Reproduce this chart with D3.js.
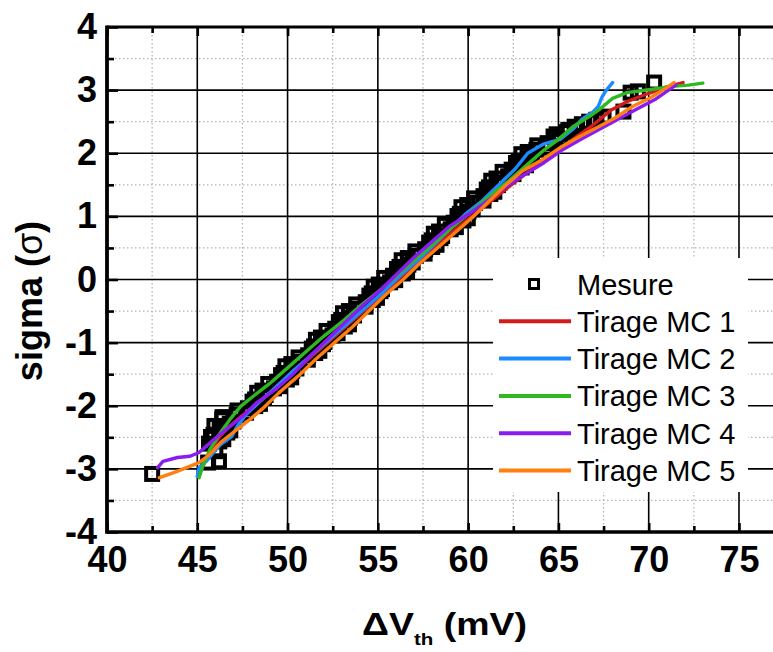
<!DOCTYPE html>
<html><head><meta charset="utf-8">
<script src="https://cdn.jsdelivr.net/npm/d3@7"></script>
<style>html,body{margin:0;padding:0;background:#fff;} svg{display:block;}</style>
</head><body>
<svg id="chart" width="773" height="652"></svg>
<script>
// ---------- data ----------
const xTicks = [40,45,50,55,60,65,70,75];
const xMinor = [42.5,47.5,52.5,57.5,62.5,67.5,72.5,77.5];
const yTicks = [-4,-3,-2,-1,0,1,2,3,4];
const yMinor = [-3.5,-2.5,-1.5,-0.5,0.5,1.5,2.5,3.5];
const seriesNames = ["Mesure","Tirage MC 1","Tirage MC 2","Tirage MC 3","Tirage MC 4","Tirage MC 5"];
const seriesColors = ["#000000","#d21b1b","#1a8cff","#2fb821","#8a1cf0","#ff7f10"];

// measured points (sigma, deltaVth)
const mesureS = [-3.08,-2.90,-2.88,-2.72,
 -2.60,-2.53,-2.46,-2.39,-2.32,-2.25,-2.18,-2.11,-2.04,-1.97,
 -1.90,-1.83,-1.76,-1.69,-1.62,-1.55,-1.48,-1.41,-1.34,-1.27,
 -1.20,-1.13,-1.06,-0.99,-0.92,-0.85,-0.78,-0.71,-0.64,-0.57,
 -0.50,-0.43,-0.36,-0.29,-0.22,-0.15,-0.08,-0.01,0.06,0.13,
 0.20,0.27,0.34,0.41,0.48,0.55,0.62,0.69,0.76,0.83,
 0.90,0.97,1.04,1.11,1.18,1.25,1.32,1.39,1.46,1.53,
 1.60,1.67,1.74,1.81,1.88,1.95,2.02,2.09,2.16,2.23,
 2.30,2.37,
 2.42,2.46,2.50,2.53,2.58,2.66,2.96,2.98,3.12,
 -2.565,-2.495,-2.425,-2.355,-2.285,-2.215,-2.145,-2.075,-2.005,-1.935,
 -1.865,-1.795,-1.725,-1.655,-1.585,-1.515,-1.445,-1.375,-1.305,-1.235,
 -1.165,-1.095,-1.025,-0.955,-0.885,-0.815,-0.745,-0.675,-0.605,-0.535,
 -0.465,-0.395,-0.325,-0.255,-0.185,-0.115,-0.045,0.025,0.095,0.165,
 0.235,0.305,0.375,0.445,0.515,0.585,0.655,0.725,0.795,0.865,
 0.935,1.005,1.075,1.145,1.215,1.285,1.355,1.425,1.495,1.565,
 1.635,1.705,1.775,1.845,1.915,1.985,2.055,2.125,2.195,2.265,2.335];
const mesureV = [42.5,45.6,46.2,46.0,
 45.65,46.44,45.9,46.83,45.95,47.0,46.4,47.7,47.8,48.47,
 48.2,48.78,48.61,49.54,49.42,50.2,49.78,50.49,50.21,51.12,
 51.14,51.76,51.47,52.04,51.85,52.77,52.64,53.4,52.97,53.68,
 53.4,54.32,54.33,54.95,54.66,55.23,55.05,55.96,55.84,56.62,
 56.2,56.93,56.66,57.59,57.62,58.25,57.98,58.56,58.39,59.32,
 59.2,59.98,59.54,60.25,59.95,60.85,60.85,61.45,61.16,61.73,
 61.57,62.51,62.41,63.2,62.8,63.54,63.3,64.3,64.4,65.1,
 64.9,65.55,
 65.9,66.3,66.7,67.1,67.5,68.6,69.0,69.4,70.3,
 46.22,45.76,46.66,46.24,46.8,46.38,47.18,47.23,48.21,48.06,
 48.69,48.32,49.25,48.93,49.96,49.64,50.26,49.88,50.64,50.61,
 51.53,51.34,51.96,51.57,52.49,52.16,53.17,52.84,53.45,53.07,
 53.84,53.8,54.72,54.53,55.15,54.77,55.68,55.35,56.38,56.06,
 56.69,56.32,57.1,57.08,58.01,57.84,58.47,58.1,59.03,58.71,
 59.74,59.41,60.02,59.63,60.38,60.33,61.23,61.03,61.65,61.28,
 62.22,61.91,62.96,62.65,63.3,62.95,63.78,63.83,64.83,64.73,65.43];

const mc1 = [[45.1,-3.1],[45.4,-2.9],[45.8,-2.7],[46.2,-2.5],[46.7,-2.35],[47.3,-2.2],[48.2,-2.0],[49.2,-1.75],[50.4,-1.45],[51.4,-1.2],[52.4,-0.95],[53.4,-0.7],[54.4,-0.45],[55.4,-0.2],[56.3,0.05],[57.3,0.3],[58.3,0.55],[59.3,0.8],[60.3,1.02],[61.3,1.25],[62.3,1.48],[63.4,1.72],[64.6,1.98],[65.7,2.2],[66.8,2.42],[67.9,2.68],[68.9,2.83],[70.0,2.95],[71.0,3.05],[71.9,3.12]];
const mc2 = [[45.0,-3.12],[45.1,-2.98],[45.5,-2.88],[45.9,-2.74],[46.3,-2.61],[46.9,-2.49],[47.2,-2.33],[47.7,-2.14],[48.4,-1.95],[49.3,-1.72],[50.3,-1.45],[51.3,-1.2],[52.3,-0.95],[53.3,-0.7],[54.3,-0.45],[55.3,-0.2],[56.2,0.05],[57.2,0.3],[58.1,0.55],[59.0,0.8],[59.9,1.05],[60.8,1.25],[61.7,1.5],[62.6,1.75],[63.3,2.0],[64.2,2.15],[65.1,2.22],[65.8,2.38],[66.3,2.54],[66.9,2.65],[67.2,2.74],[67.4,2.88],[67.6,2.98],[68.0,3.12]];
const mc3 = [[45.1,-3.14],[45.3,-2.96],[45.7,-2.69],[46.3,-2.42],[46.8,-2.22],[47.4,-2.01],[48.1,-1.85],[49.0,-1.65],[50.0,-1.4],[51.0,-1.15],[52.0,-0.9],[53.1,-0.65],[54.1,-0.4],[55.2,-0.15],[56.2,0.1],[57.2,0.35],[58.2,0.6],[59.2,0.85],[60.2,1.08],[61.2,1.32],[62.2,1.55],[63.2,1.8],[64.2,2.05],[65.0,2.22],[65.8,2.42],[66.7,2.58],[67.3,2.7],[68.0,2.87],[68.8,2.96],[70.1,3.01],[71.3,3.06],[72.2,3.08],[73.0,3.11]];
const mc4 = [[42.8,-2.98],[43.1,-2.88],[43.9,-2.82],[44.6,-2.8],[45.1,-2.74],[45.5,-2.64],[46.1,-2.49],[46.8,-2.33],[47.5,-2.17],[48.3,-1.95],[49.3,-1.75],[50.3,-1.5],[51.3,-1.2],[52.2,-0.95],[53.3,-0.65],[54.2,-0.4],[55.2,-0.15],[56.1,0.1],[57.0,0.35],[58.0,0.6],[59.0,0.85],[60.1,1.05],[61.1,1.25],[62.1,1.47],[63.1,1.66],[64.2,1.85],[65.2,2.05],[66.3,2.23],[67.4,2.4],[68.5,2.57],[69.4,2.71],[70.4,2.86],[71.1,3.0],[71.5,3.08]];
const mc5 = [[42.9,-3.14],[43.7,-3.06],[44.4,-2.98],[45.1,-2.9],[45.7,-2.77],[46.3,-2.58],[47.0,-2.42],[47.9,-2.22],[48.6,-2.05],[49.5,-1.8],[50.7,-1.5],[51.6,-1.25],[52.6,-1.0],[53.6,-0.75],[54.5,-0.5],[55.4,-0.25],[56.4,0.0],[57.3,0.25],[58.3,0.5],[59.3,0.75],[60.3,1.0],[61.2,1.25],[62.1,1.5],[63.0,1.72],[64.0,1.88],[65.1,2.09],[66.2,2.27],[67.3,2.43],[68.2,2.57],[69.1,2.74],[70.1,2.88],[71.0,3.04],[71.4,3.12]];

// ---------- layout ----------
const svg = d3.select("#chart");
const W = 773, H = 652;
svg.append("rect").attr("width",W).attr("height",H).attr("fill","#fff");
const x = d3.scaleLinear().domain([40,77]).range([107, 107 + 37*18.057]);
const y = d3.scaleLinear().domain([-4,4]).range([532,27]);
const FONT = "'Liberation Sans', Arial, Helvetica, sans-serif";

// grid
const grid = svg.append("g");
grid.selectAll(".mgx").data(xMinor).join("line")
  .attr("x1",d=>x(d)).attr("x2",d=>x(d)).attr("y1",y(4)).attr("y2",y(-4))
  .attr("stroke","#b4b4b4").attr("stroke-width",1.3).attr("stroke-dasharray","1.5,2.5");
grid.selectAll(".mgy").data(yMinor).join("line")
  .attr("x1",x(40)).attr("x2",x(77)).attr("y1",d=>y(d)).attr("y2",d=>y(d))
  .attr("stroke","#b4b4b4").attr("stroke-width",1.3).attr("stroke-dasharray","1.5,2.5");
grid.selectAll(".Mgx").data(xTicks.slice(1)).join("line")
  .attr("x1",d=>x(d)).attr("x2",d=>x(d)).attr("y1",y(4)).attr("y2",y(-4))
  .attr("stroke","#000").attr("stroke-width",1.6);
grid.selectAll(".Mgy").data(yTicks.slice(1,-1)).join("line")
  .attr("x1",x(40)).attr("x2",x(77)).attr("y1",d=>y(d)).attr("y2",d=>y(d))
  .attr("stroke","#000").attr("stroke-width",1.6);

// measurement squares
const mesure = d3.zip(mesureV, mesureS);
const sq = 12;
svg.append("g").selectAll("rect").data(mesure).join("rect")
  .attr("x",d=>x(d[0])-sq/2).attr("y",d=>y(d[1])-sq/2)
  .attr("width",sq).attr("height",sq)
  .attr("fill","none").attr("stroke","#000").attr("stroke-width",4);

// MC lines
const line = d3.line().x(d=>x(d[0])).y(d=>y(d[1]));
[mc1,mc2,mc3,mc4,mc5].forEach((s,i)=>{
  svg.append("path").datum(s).attr("d",line)
    .attr("fill","none").attr("stroke",seriesColors[i+1])
    .attr("stroke-width",3.4).attr("stroke-linejoin","round").attr("stroke-linecap","round");
});

// legend
const lg = svg.append("g");
lg.append("rect").attr("x",493).attr("y",258).attr("width",255).attr("height",234).attr("fill","#fff");
const rowY = i => 284 + i*37.3;
seriesNames.forEach((n,i)=>{
  const ry = rowY(i);
  if(i===0){
    lg.append("rect").attr("x",534-4.5).attr("y",ry-4.5).attr("width",9).attr("height",9)
      .attr("fill","#fff").attr("stroke","#000").attr("stroke-width",3);
  } else {
    lg.append("line").attr("x1",499).attr("x2",571).attr("y1",ry).attr("y2",ry)
      .attr("stroke",seriesColors[i]).attr("stroke-width",4);
  }
  lg.append("text").attr("x",577).attr("y",ry+10.5).attr("font-family",FONT)
    .attr("font-size",29).attr("fill","#000").text(n);
});

// axes
function styleAxis(g){
  g.select(".domain").remove();
  g.selectAll(".tick line").attr("stroke","#000").attr("stroke-width",2.6);
  g.selectAll("text").attr("font-family",FONT).attr("font-weight","bold").attr("font-size",36).attr("fill","#000");
}
const fmt = d => String(d).replace("\u2212","-");
svg.append("g").attr("transform","translate(0,532)")
  .call(d3.axisBottom(x).tickValues(xTicks).tickSize(-9).tickPadding(14.4).tickFormat(fmt)).call(styleAxis);
svg.append("g").attr("transform","translate(0,532)")
  .call(d3.axisBottom(x).tickValues(xMinor).tickSize(-6).tickFormat("")).call(styleAxis);
svg.append("g").attr("transform","translate(0,27)")
  .call(d3.axisTop(x).tickValues(xTicks).tickSize(-9).tickFormat("")).call(styleAxis);
svg.append("g").attr("transform","translate(0,27)")
  .call(d3.axisTop(x).tickValues(xMinor).tickSize(-6).tickFormat("")).call(styleAxis);
svg.append("g").attr("transform","translate(107,0)")
  .call(d3.axisLeft(y).tickValues(yTicks).tickSize(-11).tickPadding(10).tickFormat(fmt)).call(styleAxis);
svg.append("g").attr("transform","translate(107,0)")
  .call(d3.axisLeft(y).tickValues(yMinor).tickSize(-7).tickFormat("")).call(styleAxis);

// frame lines
svg.append("line").attr("x1",107).attr("x2",W).attr("y1",27).attr("y2",27).attr("stroke","#000").attr("stroke-width",3);
svg.append("line").attr("x1",107).attr("x2",W).attr("y1",532).attr("y2",532).attr("stroke","#000").attr("stroke-width",3.5);
svg.append("line").attr("x1",107).attr("x2",107).attr("y1",25.5).attr("y2",533.7).attr("stroke","#000").attr("stroke-width",3.8);

// y label
const yl = svg.append("text").attr("transform","translate(42,301) rotate(-90)")
  .attr("text-anchor","middle").attr("font-family",FONT).attr("font-weight","bold").attr("font-size",36).attr("fill","#000");
yl.append("tspan").text("sigma (");
yl.append("tspan").attr("font-weight","normal").text("\u03c3");
yl.append("tspan").text(")");

// x label
const xl = svg.append("text").attr("font-family",FONT).attr("font-weight","bold").attr("font-size",31).attr("fill","#000");
xl.append("tspan").text("\u0394V");
xl.append("tspan").attr("font-size",17).attr("dy",10).text("th");
xl.append("tspan").attr("dy",-10).text(" (mV)");
const bw = xl.node().getBBox().width;
const sx = 165 / bw;
xl.attr("transform",`translate(${444.5 - bw*sx/2},635) scale(${sx},1)`);
</script>
</body></html>
